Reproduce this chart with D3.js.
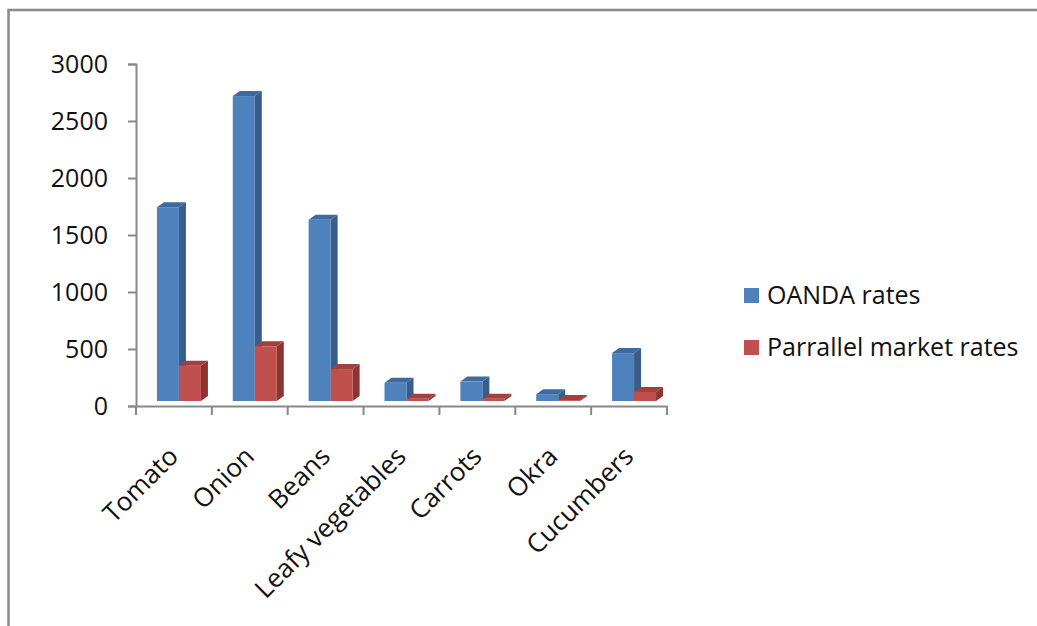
<!DOCTYPE html>
<html>
<head>
<meta charset="utf-8">
<script src="https://cdn.jsdelivr.net/npm/d3@7"></script>
<style>
  html, body { margin: 0; padding: 0; background: #fff; }
  svg { display: block; }
  text { font-family: "Open Sans", Lato, sans-serif; fill: #111; }
</style>
</head>
<body>
<svg id="chart" width="1037" height="626"></svg>
<script>
// Vegetable price comparison: OANDA vs parallel market exchange rates
const categories = ["Tomato", "Onion", "Beans", "Leafy vegetables", "Carrots", "Okra", "Cucumbers"];
const seriesNames = ["OANDA rates", "Parrallel market rates"];
const oandaRates = [1700, 2675, 1590, 160, 170, 60, 420];
const parallelRates = [310, 480, 280, 20, 20, 8, 80];
const yTicks = [0, 500, 1000, 1500, 2000, 2500, 3000];

const seriesValues = [oandaRates, parallelRates];
const palette = [
  { front: "#4f81bd", side: "#385d8a", top: "#3e6aa0" },
  { front: "#c0504d", side: "#8b3532", top: "#a3403d" }
];

const svg = d3.select("#chart");

// outer frame
svg.append("path")
  .attr("d", "M8.5,626 V10 H1037")
  .attr("fill", "none")
  .attr("stroke", "#898989")
  .attr("stroke-width", 2.5);

const plot = { left: 136, right: 667, top: 64, bottom: 406 };

const x = d3.scaleBand().domain(categories).range([plot.left, plot.right]).paddingInner(0).paddingOuter(0);
const y = d3.scaleLinear().domain([0, 3000]).range([plot.bottom, plot.top]);

// 3D depth of each column
const depthX = 7, depthY = 5;
const floorLift = 5;   // columns stand slightly behind the axis plane
const barW = 22;
const shiftX = 5;

// value axis
const yAxis = d3.axisLeft(y).tickValues(yTicks).tickSize(8).tickPadding(20).tickFormat(d3.format("d"));
const gy = svg.append("g").attr("transform", `translate(${plot.left},0)`).call(yAxis);
gy.select(".domain").attr("stroke", "#888").attr("stroke-width", 2);
gy.selectAll(".tick line").attr("stroke", "#888").attr("stroke-width", 2);
gy.selectAll(".tick text").style("font-size", "25px").attr("fill", "#111").style("font-family", "'Open Sans', Lato, sans-serif");

// category axis
const xAxis = d3.axisBottom(x).tickSize(0).tickFormat("");
const gx = svg.append("g").attr("transform", `translate(0,${plot.bottom})`).call(xAxis);
gx.select(".domain").attr("stroke", "#888").attr("stroke-width", 2);
const bounds = categories.map(c => x(c)).concat([plot.right]);
gx.selectAll(".sep").data(bounds).enter().append("line")
  .attr("x1", d => d).attr("x2", d => d)
  .attr("y1", 0).attr("y2", 9)
  .attr("stroke", "#888").attr("stroke-width", 2);

// columns
const bars = svg.append("g");
categories.forEach((cat, i) => {
  const cx = x(cat) + x.bandwidth() / 2 + shiftX;
  seriesValues.forEach((vals, s) => {
    const v = vals[i];
    const x0 = cx - barW + s * barW;
    const x1 = x0 + barW;
    const yb = y(0) - floorLift;
    const yt = y(v) - floorLift;
    const col = palette[s];
    const g = bars.append("g");
    // side face
    g.append("path")
      .attr("d", `M${x1},${yt} L${x1 + depthX},${yt - depthY} L${x1 + depthX},${yb - depthY} L${x1},${yb} Z`)
      .attr("fill", col.side);
    // top face
    g.append("path")
      .attr("d", `M${x0},${yt} L${x0 + depthX},${yt - depthY} L${x1 + depthX},${yt - depthY} L${x1},${yt} Z`)
      .attr("fill", col.top);
    // front face
    g.append("rect")
      .attr("x", x0).attr("y", yt)
      .attr("width", barW).attr("height", yb - yt)
      .attr("fill", col.front);
  });
});

// rotated category labels
svg.append("g").selectAll("text").data(categories).enter().append("text")
  .attr("transform", d => `translate(${x(d) + x.bandwidth() / 2 + 6},${plot.bottom + 52}) rotate(-45)`)
  .attr("text-anchor", "end")
  .style("font-size", "26px")
  .text(d => d);

// legend
const legend = svg.append("g").attr("transform", "translate(744,288)");
seriesNames.forEach((name, i) => {
  const row = legend.append("g").attr("transform", `translate(0,${i * 52})`);
  row.append("rect").attr("width", 15).attr("height", 15).attr("fill", palette[i].front);
  row.append("text").attr("x", 23).attr("y", 16).style("font-size", "25px").text(name);
});
</script>
</body>
</html>
